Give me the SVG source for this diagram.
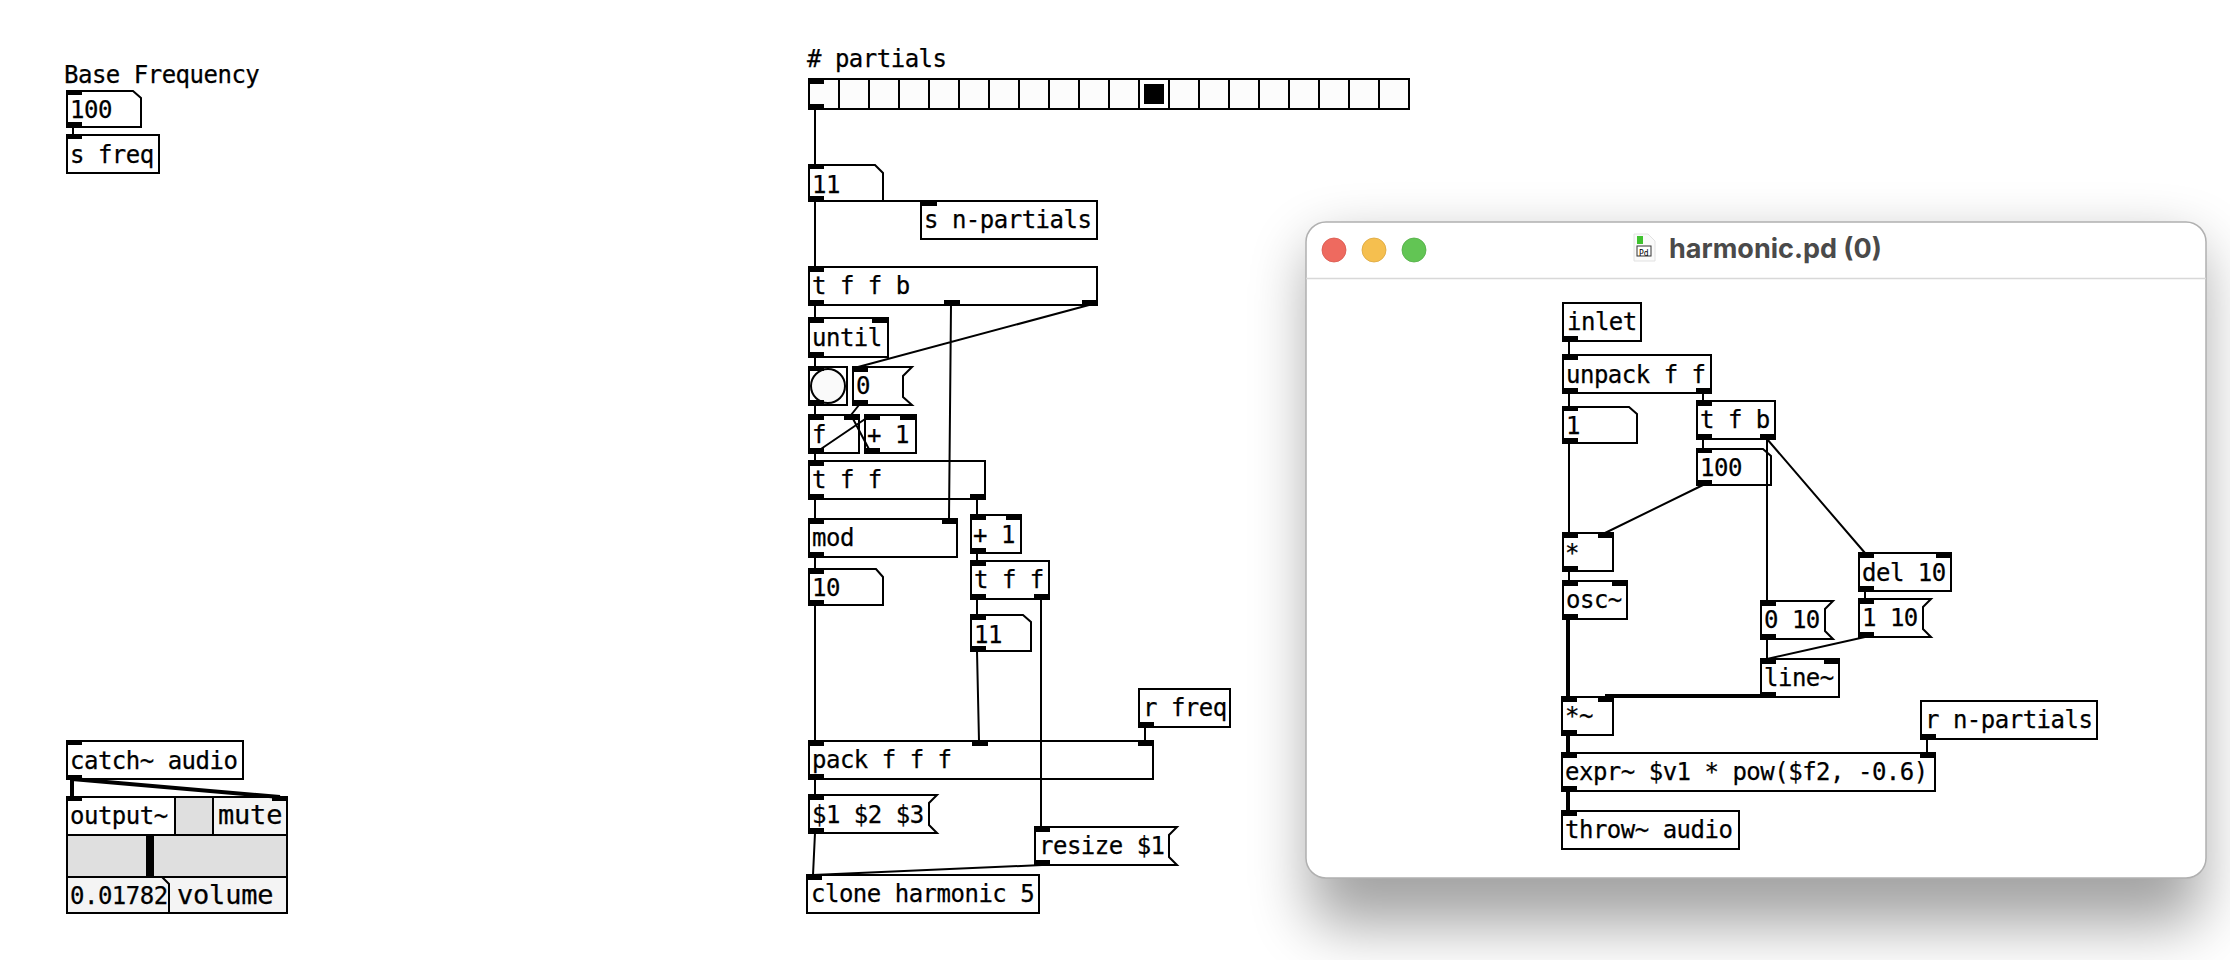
<svg xmlns="http://www.w3.org/2000/svg" width="2230" height="960" viewBox="0 0 2230 960">
<defs>
<style>
text{font-family:"DejaVu Sans Mono","Liberation Mono",monospace;font-size:24px;letter-spacing:-.5px;fill:#000;stroke:#000;stroke-width:.25px;transform:translateY(.7px)}
.b{fill:#fff;stroke:#000;stroke-width:2}
.g{fill:#f4f4f4;stroke:#000;stroke-width:2}
.c{fill:#dfdfdf;stroke:#000;stroke-width:2}
.i{fill:#000;stroke:none}
.w{fill:none;stroke:#000;stroke-width:2}
.s{fill:none;stroke:#000;stroke-width:4}
text.big{font-size:27px;letter-spacing:-.2px}
text.t{font-family:Inter,"Liberation Sans",sans-serif;font-size:27px;font-weight:700;letter-spacing:0;fill:#4a4a4a;stroke:none;transform:none}
</style>
<filter id="shadow" x="1100" y="100" width="1130" height="860" filterUnits="userSpaceOnUse">
<feGaussianBlur stdDeviation="30"/>
</filter>
</defs>
<rect width="2230" height="960" fill="#fff"/>

<g id="harmonic-window">
<rect x="1310" y="245" width="892" height="680" rx="24" fill="#000" opacity=".36" filter="url(#shadow)"/>
<rect x="1306" y="222" width="900" height="656" rx="20" fill="#fff" stroke="#b0b0b0" stroke-width="1.5"/>
<path d="M1306 278.500H2206" stroke="#d8d8d8" stroke-width="1.500" fill="none"/>
<circle cx="1334" cy="250" r="12" fill="#ee6a5f" stroke="#d9574c" stroke-width=".8"/>
<circle cx="1374" cy="250" r="12" fill="#f5bf4f" stroke="#dca63c" stroke-width=".8"/>
<circle cx="1414" cy="250" r="12" fill="#62c554" stroke="#52ad45" stroke-width=".8"/>
<path d="M1634 234H1648L1655 241V261H1634Z" fill="#fafafa" stroke="#e2e2e2" stroke-width="1"/>
<rect x="1637" y="236" width="6" height="8" fill="#3fc22f"/>
<rect x="1637" y="246" width="14" height="10" fill="#fff" stroke="#333" stroke-width="1"/>
<text x="1639" y="255" style="font-size:8px;letter-spacing:0;stroke:none">Pd</text>
<text class="t" x="1669" y="258">harmonic.pd (0)</text>
</g>

<g id="base-frequency-label"><text x="64" y="82">Base Frequency</text></g>
<g id="number-100"><path class="b" d="M67 91H133L141 98V127H67Z"/><path class="i" d="M66 90h16v5h-16zM66 122h16v6h-16z"/><text x="70" y="117">100</text></g>
<g id="s-freq"><rect class="b" x="67" y="135" width="92" height="38"/><path class="i" d="M66 134h16v5h-16z"/><text x="70" y="162">s freq</text></g>

<g id="catch-audio"><rect class="b" x="67" y="741" width="176" height="38"/><path class="i" d="M66 740h16v5h-16zM66 775h16v5h-16z"/><text x="70" y="768">catch~ audio</text></g>
<g id="output">
<rect class="b" x="67" y="797" width="108" height="38"/>
<rect class="c" x="175" y="797" width="38" height="38"/>
<rect class="g" x="213" y="797" width="74" height="38"/>
<rect class="c" x="67" y="835" width="220" height="42"/>
<rect class="i" x="146" y="835" width="8" height="42"/>
<rect class="g" x="67" y="877" width="220" height="36"/>
<path class="w" d="M162 877L169 884V913"/>
<path class="i" d="M66 796h16v5h-16zM272 796h16v5h-16z"/>
<text x="70" y="823">output~</text><text class="big" x="218" y="823">mute</text>
<text x="70" y="903">0.01782</text><text class="big" x="177" y="903">volume</text>
</g>

<g id="partials-label"><text x="807" y="66"># partials</text></g>
<g id="radio">
<rect x="809" y="79" width="600" height="30" fill="#fcfcfc" stroke="#000" stroke-width="2"/>
<rect x="1140" y="80" width="29" height="28" fill="#fff"/>
<path class="w" d="M839 79V109M869 79V109M899 79V109M929 79V109M959 79V109M989 79V109M1019 79V109M1049 79V109M1079 79V109M1109 79V109M1139 79V109M1169 79V109M1199 79V109M1229 79V109M1259 79V109M1289 79V109M1319 79V109M1349 79V109M1379 79V109"/>
<rect class="i" x="1144" y="84" width="20" height="20"/>
<path class="i" d="M808 78h16v6h-16zM808 104h16v6h-16z"/>
</g>
<g id="number-11"><path class="b" d="M809 165H875L883 173V201H809Z"/><path class="i" d="M808 164h16v5h-16zM808 196h16v6h-16z"/><text x="812" y="192">11</text></g>
<g id="s-n-partials"><rect class="b" x="921" y="201" width="176" height="38"/><path class="i" d="M921 200h16v6h-16z"/><text x="924" y="227">s n-partials</text></g>
<g id="t-f-f-b"><rect class="b" x="809" y="267" width="288" height="38"/><path class="i" d="M808 266h16v6h-16zM808 300h16v6h-16zM944 300h16v6h-16zM1082 300h16v6h-16z"/><text x="812" y="293">t f f b</text></g>
<g id="until"><rect class="b" x="809" y="318" width="79" height="39"/><path class="i" d="M808 317h16v6h-16zM872 317h16v6h-16zM808 352h16v6h-16z"/><text x="812" y="345">until</text></g>
<g id="bang"><rect class="b" x="809" y="367" width="38" height="38"/><circle cx="828" cy="386" r="17" fill="#fafafa" stroke="#000" stroke-width="2"/><path class="i" d="M808 366h16v5h-16zM808 400h16v6h-16z"/></g>
<g id="message-0"><path class="b" d="M853 367H912L903 376V397L912 405H853Z"/><path class="i" d="M852 366h16v6h-16zM852 400h16v6h-16z"/><text x="856" y="393">0</text></g>
<g id="f"><rect class="b" x="809" y="415" width="50" height="38"/><path class="i" d="M808 414h16v6h-16zM844 414h16v6h-16zM808 448h16v6h-16z"/><text x="812" y="442">f</text></g>
<g id="plus-1"><rect class="b" x="865" y="415" width="51" height="38"/><path class="i" d="M864 414h16v6h-16zM900 414h16v6h-16zM864 448h16v6h-16z"/><text x="867" y="442">+ 1</text></g>
<g id="t-f-f"><rect class="b" x="809" y="461" width="176" height="38"/><path class="i" d="M808 460h16v6h-16zM808 494h16v6h-16zM970 494h16v6h-16z"/><text x="812" y="487">t f f</text></g>
<g id="mod"><rect class="b" x="809" y="519" width="148" height="38"/><path class="i" d="M808 518h16v6h-16zM942 518h16v6h-16zM808 552h16v6h-16z"/><text x="812" y="545">mod</text></g>
<g id="plus-1-b"><rect class="b" x="971" y="515" width="50" height="38"/><path class="i" d="M970 514h16v6h-16zM1006 514h16v6h-16zM970 548h16v6h-16z"/><text x="973" y="542">+ 1</text></g>
<g id="number-10"><path class="b" d="M809 569H876L883 577V605H809Z"/><path class="i" d="M808 568h16v6h-16zM808 600h16v6h-16z"/><text x="812" y="595">10</text></g>
<g id="t-f-f-b2"><rect class="b" x="971" y="561" width="78" height="38"/><path class="i" d="M970 560h16v6h-16zM970 594h16v6h-16zM1034 594h16v6h-16z"/><text x="974" y="587">t f f</text></g>
<g id="number-11-b"><path class="b" d="M971 615H1023L1031 622V651H971Z"/><path class="i" d="M970 614h16v6h-16zM970 646h16v6h-16z"/><text x="974" y="642">11</text></g>
<g id="r-freq"><rect class="b" x="1139" y="689" width="91" height="38"/><path class="i" d="M1138 722h16v6h-16z"/><text x="1143" y="715">r freq</text></g>
<g id="pack"><rect class="b" x="809" y="741" width="344" height="38"/><path class="i" d="M808 740h16v6h-16zM972 740h16v6h-16zM1138 740h16v6h-16zM808 774h16v6h-16z"/><text x="812" y="767">pack f f f</text></g>
<g id="message-args"><path class="b" d="M809 795H937L929 803V825L937 833H809Z"/><path class="i" d="M808 794h16v6h-16zM808 828h16v6h-16z"/><text x="812" y="822">$1 $2 $3</text></g>
<g id="message-resize"><path class="b" d="M1035 827H1177L1169 835V857L1177 865H1035Z"/><path class="i" d="M1034 826h16v6h-16zM1034 860h16v6h-16z"/><text x="1039" y="853">resize $1</text></g>
<g id="clone"><rect class="b" x="807" y="875" width="232" height="38"/><path class="i" d="M806 874h16v6h-16z"/><text x="811" y="901">clone harmonic 5</text></g>

<g id="inlet"><rect class="b" x="1563" y="303" width="78" height="38"/><path class="i" d="M1562 336h16v6h-16z"/><text x="1567" y="329">inlet</text></g>
<g id="unpack"><rect class="b" x="1563" y="355" width="148" height="38"/><path class="i" d="M1562 354h16v6h-16zM1562 388h16v6h-16zM1696 388h16v6h-16z"/><text x="1566" y="382">unpack f f</text></g>
<g id="number-1"><path class="b" d="M1563 407H1629L1637 414V443H1563Z"/><path class="i" d="M1562 406h16v5h-16zM1562 438h16v6h-16z"/><text x="1566" y="433">1</text></g>
<g id="t-f-b"><rect class="b" x="1697" y="401" width="78" height="38"/><path class="i" d="M1696 400h16v6h-16zM1696 434h16v6h-16zM1760 434h16v6h-16z"/><text x="1700" y="427">t f b</text></g>
<g id="number-100-b"><path class="b" d="M1697 449H1763L1771 456V485H1697Z"/><path class="i" d="M1696 448h16v5h-16zM1696 480h16v6h-16z"/><text x="1700" y="475">100</text></g>
<g id="multiply"><rect class="b" x="1563" y="533" width="50" height="38"/><path class="i" d="M1562 532h16v6h-16zM1598 532h16v6h-16zM1562 566h16v6h-16z"/><text x="1565" y="560">*</text></g>
<g id="osc"><rect class="b" x="1563" y="581" width="64" height="38"/><path class="i" d="M1562 580h16v6h-16zM1612 580h16v6h-16zM1562 614h16v6h-16z"/><text x="1566" y="607">osc~</text></g>
<g id="del-10"><rect class="b" x="1859" y="553" width="92" height="38"/><path class="i" d="M1858 552h16v6h-16zM1936 552h16v6h-16zM1858 586h16v6h-16z"/><text x="1862" y="580">del 10</text></g>
<g id="message-0-10"><path class="b" d="M1761 601H1833L1825 609V631L1833 639H1761Z"/><path class="i" d="M1760 600h16v6h-16zM1760 634h16v6h-16z"/><text x="1764" y="627">0 10</text></g>
<g id="message-1-10"><path class="b" d="M1859 599H1931L1923 607V629L1931 637H1859Z"/><path class="i" d="M1858 598h16v6h-16zM1858 632h16v6h-16z"/><text x="1862" y="625">1 10</text></g>
<g id="line"><rect class="b" x="1761" y="659" width="78" height="38"/><path class="i" d="M1760 658h16v6h-16zM1824 658h16v6h-16zM1760 692h16v6h-16z"/><text x="1764" y="685">line~</text></g>
<g id="multiply-signal"><rect class="b" x="1562" y="697" width="51" height="38"/><path class="i" d="M1561 696h16v6h-16zM1598 696h16v6h-16zM1561 730h16v6h-16z"/><text x="1565" y="723">*~</text></g>
<g id="r-n-partials"><rect class="b" x="1921" y="701" width="176" height="38"/><path class="i" d="M1920 734h16v6h-16z"/><text x="1925" y="727">r n-partials</text></g>
<g id="expr"><rect class="b" x="1562" y="753" width="373" height="38"/><path class="i" d="M1561 752h16v6h-16zM1920 752h16v6h-16zM1561 786h16v6h-16z"/><text x="1565" y="779">expr~ $v1 * pow($f2, -0.6)</text></g>
<g id="throw"><rect class="b" x="1562" y="811" width="177" height="38"/><path class="i" d="M1561 810h16v6h-16z"/><text x="1565" y="837">throw~ audio</text></g>

<g id="connectors">
<path class="w" d="M73 127V135"/>
<path class="s" d="M72 779V797M72 779L280 797"/>
<path class="w" d="M815 109V165M815 201V267M815 305V318M815 357V367M815 405V415M815 453V461M815 499V519M815 557V569M815 605V741M815 779V795"/>
<path class="w" d="M815 201H928"/>
<path class="w" d="M1089 305L858 367M951 305L949 519M859 405L851 415M815 453L871 415M871 453L851 415"/>
<path class="w" d="M977 499V515M977 553V561M977 599V615M977 651L979 741M1041 599V827M1145 727V741"/>
<path class="w" d="M815 833L813 875M1042 865L813 875"/>
<path class="w" d="M1569 341V355M1569 393V407M1703 393V401M1703 439V449M1569 443V533M1703 485L1605 533M1569 571V581"/>
<path class="w" d="M1767 439V601M1767 439L1865 553M1865 591V599M1767 639V659M1865 637L1767 659M1927 739V753"/>
<path class="s" d="M1568 619V697M1605 696H1767M1568 735V753M1568 791V811"/>
</g>
</svg>
